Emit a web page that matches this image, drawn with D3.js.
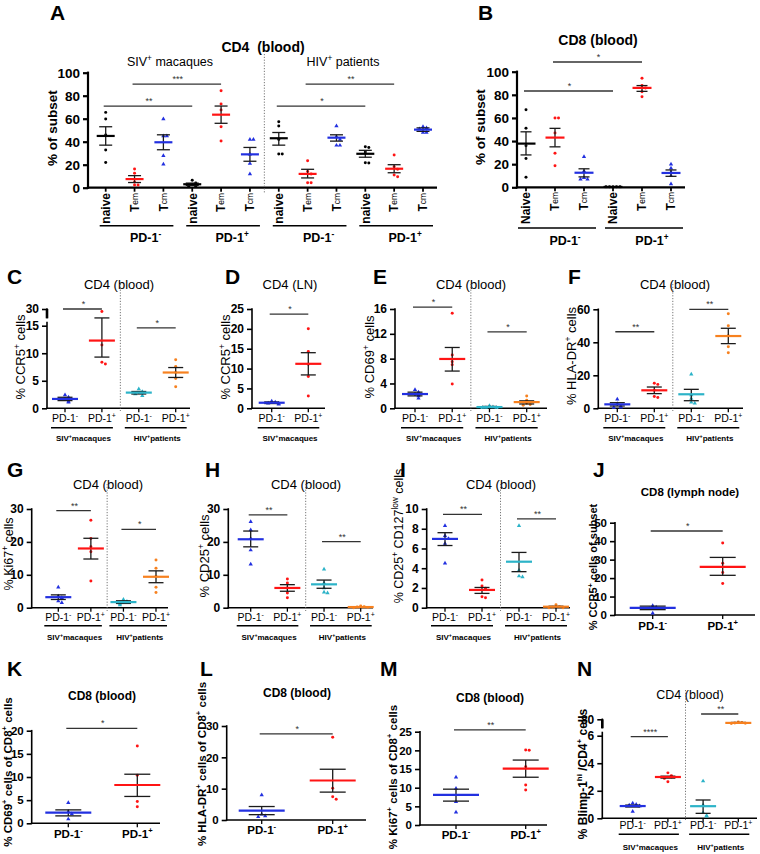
<!DOCTYPE html>
<html><head><meta charset="utf-8">
<script src="https://cdn.jsdelivr.net/npm/d3@7"></script>
<style>body{margin:0;background:#fff}svg{display:block}</style>
</head><body>
<svg id="chart" width="760" height="854"></svg>
<script>
// ================= DATA =================
// Panel A : CD4 (blood) subsets
const aXLabels = ["naive","T_em_","T_cm_","naive","T_em_","T_cm_","naive","T_em_","T_cm_","naive","T_em_","T_cm_"];
const aGroups = ["PD-1^-^","PD-1^+^","PD-1^-^","PD-1^+^"];
const aCohorts = ["SIV^+^ macaques","HIV^+^ patients"];
const aMean = [45,7.5,39.5,3,63.5,29,43,12,43.5,29.5,16.5,50.5];
const aHi   = [53,10.5,46,4,71,35,48,16,46,32.5,20,52];
const aLo   = [37,4.5,33,2,56,23,37,8.5,40.5,26.5,13,49];
const aPts  = [[65.5,59.7,45.8,32.8,22],[16.3,12.5,5,2.3,2.3],[59.7,45,45,27.8,20.3],[6.5,4,3,1,1],
               [84.3,72.8,67.5,53,40.6],[42,42,29,21,12],[57.4,53.7,42,29.3,29.3],[23.5,14,12,4.3,4.3],
               [53.7,44.3,42,36.8,36.8],[35.7,35,31,21.7,21.5],[28.4,18.3,16,11,9.6],[53,52,51,48,48]];
const aTicks = [0,20,40,60,80,100];
const aSig = [[0,3,71,"**"],[1,4,90,"***"],[6,9,71,"*"],[7,10,90,"**"]];

// Panel B : CD8 (blood) subsets
const bXLabels = ["Naive","T_em_","T_cm_","Naive","T_em_","T_cm_"];
const bGroups = ["PD-1^-^","PD-1^+^"];
const bMean = [37.8,43,12.6,0.3,86,12.4];
const bHi   = [48,51,16,0.4,88,15];
const bLo   = [28,35,9,0.2,83,9.5];
const bPts  = [[67,51,36,25,8.6],[60,60,47,29.4,18.7],[26.5,14,8.3,7,7],[0.4,0.4,0.4,0.4,0.4],[94.3,88,86,82.7,78.4],[20,16.4,13,10,2.9]];
const bTicks = [0,20,40,60,80,100];
const bSig = [[0,3,83.3,"*"],[1,4,108.4,"*"]];

// Shared x labels for the PD-1 comparisons
const pd4 = ["PD-1^-^","PD-1^+^","PD-1^-^","PD-1^+^"];
const pd2 = ["PD-1^-^","PD-1^+^"];
const cohortsBoth = ["SIV^+^macaques","HIV^+^patients"];
const cohortsSIV = ["SIV^+^macaques"];

// Panel C : % CCR5+ (CD4 blood)
const cMean = [1.7,12.3,2.85,6.5];
const cHi   = [2.0,15.8,3.05,7.4];
const cLo   = [1.4,9.3,2.6,5.6];
const cPts  = [[2.4,2.0,1.7,1.3,1.1],[26,11.5,8.35,8.05],[3.5,3.0,2.85,2.6,2.3],[8.8,7.6,6.5,5.4,3.9]];
const cTicks = [0,5,10,15,30];
const cSig = [[0,1,30,"*"],[2,3,14.6,"*"]];

// Panel D : % CCR5+ (CD4 LN)
const dMean = [1.4,11.2];
const dHi   = [1.6,14.0];
const dLo   = [1.2,8.4];
const dPts  = [[1.8,1.5,1.3,1.2,1.0],[20,14.3,11.1,8,3.1]];
const dTicks = [0,5,10,15,20,25];
const dSig = [[0,1,23.7,"*"]];

// Panel E : % CD69+ (CD4 blood)
const eMean = [2.3,7.95,0.2,1.0];
const eHi   = [2.6,9.8,0.3,1.2];
const eLo   = [2.0,6.0,0.1,0.7];
const ePts  = [[3.0,2.6,2.2,2.0,1.6],[15.3,8.6,7.5,7.0,3.9],[0.4,0.2,0.1,0.1,0.1],[2.0,1.3,0.8,0.6,0.5]];
const eTicks = [0,4,8,12,16];
const eSig = [[0,1,16.3,"*"],[2,3,12.3,"*"]];

// Panel F : % HLA-DR+ (CD4 blood)
const fMean = [2.4,10.9,8.5,43.8];
const fHi   = [3.4,12.9,11.5,48.5];
const fLo   = [1.4,8.9,4.6,39.2];
const fPts  = [[5.5,2.8,1.2,0.6,0.5],[15.2,14.5,11,7.2,6.5],[20.6,8,6,3.6,3],[57.3,50,44,37.3,33.7]];
const fTicks = [0,20,40,60];
const fSig = [[0,1,46.4,"**"],[2,3,60,"**"]];

// Panel G : % Ki67+ (CD4 blood)
const gMean = [3.2,18,1.7,9.4];
const gHi   = [3.9,21.1,2.1,11.2];
const gLo   = [2.5,14.8,1.3,7.6];
const gPts  = [[6.2,3.5,3.0,2.0,1.5],[26.6,21,18.5,17,8.1],[2.5,1.9,1.6,1.3,0.8],[14.5,12,9.5,6.2,4.6]];
const gTicks = [0,10,20,30];
const gSig = [[0,1,29.5,"**"],[2,3,23.8,"*"]];

// Panel H : % CD25+ (CD4 blood)
const hMean = [20.8,6.0,7.1,0.2];
const hHi   = [23.3,7.0,8.4,0.3];
const hLo   = [18.5,5.0,5.9,0.1];
const hPts  = [[26.1,23.6,21,17.5,13.2],[8.7,7.5,6,4.5,3],[11.7,7.5,6,4.7,4.5],[0.5,0.3,0.2,0.1,0]];
const hTicks = [0,10,20,30];
const hSig = [[0,1,28.2,"**"],[2,3,20.1,"**"]];

// Panel I : % CD25+ CD127low (CD4 blood)
const iMean = [6.97,1.8,4.66,0.1];
const iHi   = [7.6,2.05,5.6,0.15];
const iLo   = [6.3,1.45,3.65,0.05];
const iPts  = [[8.3,7.3,7.0,6.5,4.5],[2.8,2.2,1.97,1.1,1.0],[8.3,3.8,3.2,3.1],[0.3,0.1,0.05,0,0]];
const iTicks = [0,2,4,6,8,10];
const iSig = [[0,1,9.46,"**"],[2,3,9.0,"**"]];

// Panel J : % CCR5+ (CD8 lymph node)
const jMean = [3.9,26.1];
const jHi   = [4.8,31.2];
const jLo   = [2.9,21.5];
const jPts  = [[5,4.2,3.5,1],[39,28,23,17]];
const jTicks = [0,10,20,30,40,50];
const jSig = [[0,1,45.5,"*"]];

// Panel K : % CD69+ of CD8+ (blood)
const kMean = [2.3,8.27];
const kHi   = [2.9,10.6];
const kLo   = [1.6,5.8];
const kPts  = [[4.45,2.5,2.0,0.9],[16.7,10.4,4.7,3.6]];
const kTicks = [0,5,10,15,20];
const kSig = [[0,1,20.5,"*"]];

// Panel L : % HLA-DR+ of CD8+ (blood)
const lMean = [3.0,12.6];
const lHi   = [4.3,16.2];
const lLo   = [1.7,8.9];
const lPts  = [[8,1.8,1.3,1.0],[26.4,10.1,7.4,6.6]];
const lTicks = [0,10,20,30];
const lSig = [[0,1,27.5,"*"]];

// Panel M : % Ki67+ of CD8+ (blood)
const mMean = [8.06,15.1];
const mHi   = [9.6,17.4];
const mLo   = [6.4,12.8];
const mPts  = [[12.8,9.8,6.2,3.4],[20.1,20,15.6,10.7,9.4]];
const mTicks = [0,5,10,15,20,25];
const mSig = [[0,1,25.5,"**"]];

// Panel N : % Blimp-1hi / CD4+ (blood)
const nMean = [0.89,3.0,0.88,72];
const nHi   = [0.96,3.06,1.33,73];
const nLo   = [0.82,2.92,0.36,71];
const nPts  = [[1.1,1.0,0.95,0.9,0.5],[3.3,3.1,3.0,2.9,2.65],[2.7,0.97,0.4,0.2,0.15],[74,73,72,71.3,70.5]];
const nTicks = [0,2,4,6,80];
const nSig = [[0,1,5.93,"****"],[2,3,91.8,"**"]];

// ================= STYLE =================
const FONT = '"Liberation Sans", Arial, Helvetica, sans-serif';
const K = "#000000", R = "#ff1414", B = "#2230e0", C = "#2cb3c8", O = "#f7811f";
const colKRB = [K,R,B,K,R,B,K,R,B,K,R,B];
const colBRCO = [B,R,C,O];
const colBR = [B,R];

const svg = d3.select("#chart").attr("font-family", FONT);

// text with ^superscript^ and _subscript_ markup (baseline-shift, no chunk breaks)
function rich(g, str, o) {
  let x = o.x;
  if (o.rotate) x = o.x + 0.36 * o.size;   // centre rotated glyphs on o.x
  const t = g.append("text")
    .attr("x", x).attr("y", o.y)
    .attr("font-size", o.size)
    .attr("font-weight", o.weight || "normal")
    .attr("text-anchor", o.anchor || "middle")
    .attr("fill", o.fill || "#000")
    .style("white-space", "pre");
  if (o.rotate) t.attr("transform", `rotate(${o.rotate},${x},${o.y})`);
  const parts = str.split(/(\^[^\^]*\^|_[^_]*_)/).filter(s => s.length);
  parts.forEach(p => {
    let txt = p, bs = 0, fs = o.size, w = null;
    if (p.length > 1 && p[0] === "^" && p[p.length-1] === "^") {
      txt = p.slice(1,-1); bs = 0.4*o.size; fs = o.size*0.66;
    } else if (p.length > 1 && p[0] === "_" && p[p.length-1] === "_") {
      txt = p.slice(1,-1); bs = 0.08*o.size; fs = o.size*0.7; w = "normal";
    }
    const ts = t.append("tspan").text(txt).attr("font-size", fs);
    if (bs) ts.attr("baseline-shift", bs);
    if (w) ts.attr("font-weight", w);
  });
  return t;
}

function drawPanel(p) {
  const g = svg.append("g");
  const n = p.means.length;
  const x = d3.scalePoint().domain(d3.range(n)).range(p.cols);
  const y = d3.scaleLinear().domain(p.yDom).range(p.yRng);
  const y0 = p.yRng[0];

  // letter & title
  g.append("text").attr("x", p.letter[1]).attr("y", p.letter[2])
    .attr("font-size", 21).attr("font-weight", "bold").text(p.letter[0]);
  rich(g, p.title, {x: p.titleXY[0], y: p.titleXY[1], size: p.titleSize, weight: p.titleWeight});
  (p.topCohorts || []).forEach(c => rich(g, c[0], {x: c[1], y: c[2], size: 12.5}));

  // y axis
  const ax = d3.axisLeft(y).tickValues(p.ticks).tickSize(p.tickLen).tickPadding(3).tickFormat(d3.format("d"));
  const ag = g.append("g").attr("transform", `translate(${p.x0},0)`).call(ax)
    .attr("font-family", FONT).attr("font-size", p.tickFont).attr("font-weight", "bold");
  ag.select(".domain").remove();
  ag.selectAll(".tick line").attr("stroke", "#000").attr("stroke-width", p.axisW);
  ag.selectAll(".tick text").attr("fill", "#000");
  const segs = p.segs || [[p.yDom[0], p.yDom[p.yDom.length-1]]];
  segs.forEach((s, i) => {
    const ya = y(s[0]) + (i === 0 ? p.axisW/2 : 0);
    const yb = y(s[1]) - ((segs.length > 1 && i === 0) ? 4 : 0) - (i === segs.length-1 ? p.axisW/2 : 0);
    g.append("line").attr("x1", p.x0).attr("x2", p.x0).attr("y1", ya).attr("y2", yb)
      .attr("stroke", "#000").attr("stroke-width", p.axisW);
  });
  if (segs.length > 1) {
    const yb = y(segs[1][0]);
    g.append("line").attr("x1", p.x0).attr("x2", p.x0).attr("y1", yb).attr("y2", y(segs[1][1]))
      .attr("stroke", "#000").attr("stroke-width", p.axisW + 1);
  }

  // x axis
  g.append("line").attr("x1", p.x0 - p.axisW/2).attr("x2", p.x1).attr("y1", y0).attr("y2", y0)
    .attr("stroke", "#000").attr("stroke-width", p.axisW);
  d3.range(n).forEach(i => {
    g.append("line").attr("x1", x(i)).attr("x2", x(i)).attr("y1", y0).attr("y2", y0 + 4)
      .attr("stroke", "#000").attr("stroke-width", p.axisW * 0.8);
  });

  // y label
  rich(g, p.yLabel, {x: p.yLabXY[0], y: p.yLabXY[1], size: p.yLabSize, weight: p.yLabWeight, rotate: -90});

  // divider
  if (p.divAfter != null) {
    const dx = (x(p.divAfter) + x(p.divAfter + 1)) / 2;
    g.append("line").attr("x1", dx).attr("x2", dx).attr("y1", p.divY[0]).attr("y2", p.divY[1])
      .attr("stroke", "#777").attr("stroke-width", 1).attr("stroke-dasharray", "1.2,1.6");
  }

  // x labels
  p.xLabels.forEach((lab, i) => {
    if (p.xRot) {
      rich(g, lab, {x: x(i), y: p.xLabY, size: p.xLabSize, weight: "bold", anchor: "end", rotate: -90});
    } else {
      rich(g, lab, {x: x(i), y: p.xLabY, size: p.xLabSize, weight: p.xLabWeight});
    }
  });

  // group lines + labels
  (p.groups || []).forEach((gr, k) => {
    const xa = x(gr[0]) + p.gLine[0], xb = x(gr[1]) + p.gLine[1];
    g.append("line").attr("x1", xa).attr("x2", xb).attr("y1", p.groupY).attr("y2", p.groupY)
      .attr("stroke", "#000").attr("stroke-width", 1.5);
    const cx = (x(gr[0]) + x(gr[1])) / 2 + p.gLabDx;
    rich(g, p.groupLabels[k], {x: cx, y: p.groupLabY, size: p.groupLabSize, weight: "bold"});
  });

  // significance bars
  p.sig.forEach(s => {
    const yy = y(s[2]);
    g.append("line").attr("x1", x(s[0]) - 2).attr("x2", x(s[1])).attr("y1", yy).attr("y2", yy)
      .attr("stroke", "#333").attr("stroke-width", 1.3);
    g.append("text").attr("x", (x(s[0]) + x(s[1])) / 2).attr("y", yy - 2)
      .attr("text-anchor", "middle").attr("font-size", 9).attr("fill", "#333").text(s[3]);
  });

  // points, error bars, means
  p.means.forEach((m, i) => {
    const cx = x(i), col = p.colors[i];
    const placed = [];
    p.pts[i].forEach(v => {
      const py = y(v);
      const k = placed.filter(q => Math.abs(q - py) < 3).length;
      placed.push(py);
      const off = k === 0 ? 0 : (k % 2 === 1 ? 1 : -1) * Math.ceil(k / 2) * 3.5;
      const tri = (col === B || col === C);
      g.append("path")
        .attr("d", d3.symbol().type(tri ? d3.symbolTriangle : d3.symbolCircle).size(tri ? 8 : 7)())
        .attr("transform", `translate(${cx + off},${py})`)
        .attr("fill", col);
    });
    const yh = y(p.hi[i]), yl = y(p.lo[i]);
    g.append("line").attr("x1", cx).attr("x2", cx).attr("y1", yh).attr("y2", yl)
      .attr("stroke", "#1a1a1a").attr("stroke-width", 1.3);
    [yh, yl].forEach(yy => g.append("line").attr("x1", cx - p.capHalf).attr("x2", cx + p.capHalf)
      .attr("y1", yy).attr("y2", yy).attr("stroke", "#1a1a1a").attr("stroke-width", 1.3));
    g.append("line").attr("x1", cx - p.meanHalf).attr("x2", cx + p.meanHalf)
      .attr("y1", y(m)).attr("y2", y(m)).attr("stroke", col).attr("stroke-width", 2.2);
  });
}

// common settings for the small panels
const rowFlat = (o) => Object.assign({
  titleSize: 13, titleWeight: "normal", tickLen: 5, tickFont: 12, axisW: 1.6,
  yLabSize: 13, yLabWeight: "normal", xRot: false, xLabSize: 10.5, xLabWeight: "normal",
  gLine: [-14, 11], gLabDx: 0, groupLabSize: 8, meanHalf: 13, capHalf: 7.5
}, o);
const rowBold2 = (o) => Object.assign({
  titleSize: 12, titleWeight: "bold", tickLen: 5, tickFont: 11.5, axisW: 1.6,
  yLabSize: 12, yLabWeight: "bold", xRot: false, xLabSize: 11.5, xLabWeight: "bold",
  meanHalf: 23, capHalf: 13
}, o);

const panels = [
  { letter: ["A", 50, 20], title: "CD4  (blood)", titleXY: [263, 52], titleSize: 14, titleWeight: "bold",
    topCohorts: [[aCohorts[0], 170, 66], [aCohorts[1], 343, 66]],
    x0: 88, x1: 437, cols: [105.7, 423], yDom: [0, 100], yRng: [187.7, 72.7], ticks: aTicks,
    tickLen: 5, tickFont: 13.5, axisW: 2.2,
    yLabel: "% of subset", yLabXY: [52, 128], yLabSize: 13.5, yLabWeight: "bold",
    xLabels: aXLabels, xRot: true, xLabY: 193, xLabSize: 12,
    groups: [[0,2],[3,5],[6,8],[9,11]], groupLabels: aGroups, gLine: [-6, 10], groupY: 225.7,
    gLabDx: 11, groupLabY: 242, groupLabSize: 12.5,
    divAfter: 5, divY: [54, 193], sig: aSig,
    means: aMean, hi: aHi, lo: aLo, pts: aPts, colors: colKRB, meanHalf: 9, capHalf: 6.5 },
  { letter: ["B", 478, 20], title: "CD8 (blood)", titleXY: [598, 45], titleSize: 14, titleWeight: "bold",
    x0: 517, x1: 685, cols: [526, 671], yDom: [0, 100], yRng: [187.3, 71.7], ticks: bTicks,
    tickLen: 5, tickFont: 13.5, axisW: 2.2,
    yLabel: "% of subset", yLabXY: [480, 127], yLabSize: 13.5, yLabWeight: "bold",
    xLabels: bXLabels, xRot: true, xLabY: 192, xLabSize: 12,
    groups: [[0,2],[3,5]], groupLabels: bGroups, gLine: [-8, 12], groupY: 228,
    gLabDx: 10, groupLabY: 245, groupLabSize: 12.5,
    sig: bSig, means: bMean, hi: bHi, lo: bLo, pts: bPts, colors: colKRB, meanHalf: 9.5, capHalf: 5.5 },
  rowFlat({ letter: ["C", 7, 284], title: "CD4 (blood)", titleXY: [119, 289],
    x0: 47, x1: 190, cols: [65, 175.7], yDom: [0, 15, 15.2, 30], yRng: [408.3, 325.7, 318.3, 309],
    segs: [[0, 15], [15.2, 30]], ticks: cTicks,
    yLabel: "% CCR5^+^ cells", yLabXY: [20, 357],
    xLabels: pd4, xLabY: 422, groups: [[0,1],[2,3]], groupLabels: cohortsBoth, groupY: 427.7, groupLabY: 441,
    divAfter: 1, divY: [284, 411], sig: cSig,
    means: cMean, hi: cHi, lo: cLo, pts: cPts, colors: colBRCO }),
  rowFlat({ letter: ["D", 225, 284], title: "CD4 (LN)", titleXY: [290, 289],
    x0: 252, x1: 325, cols: [271.7, 308.3], yDom: [0, 25], yRng: [408.3, 309], ticks: dTicks,
    yLabel: "% CCR5^+^ cells", yLabXY: [225.7, 357],
    xLabels: pd2, xLabY: 422, groups: [[0,1]], groupLabels: cohortsSIV, groupY: 427.7, groupLabY: 441,
    sig: dSig, means: dMean, hi: dHi, lo: dLo, pts: dPts, colors: colBR }),
  rowFlat({ letter: ["E", 373, 284], title: "CD4 (blood)", titleXY: [471, 289],
    x0: 395, x1: 547, cols: [415, 526.7], yDom: [0, 16], yRng: [408.3, 309], ticks: eTicks,
    yLabel: "% CD69^+^ cells", yLabXY: [369, 357],
    xLabels: pd4, xLabY: 422, groups: [[0,1],[2,3]], groupLabels: cohortsBoth, groupY: 427.7, groupLabY: 441,
    divAfter: 1, divY: [284, 411], sig: eSig,
    means: eMean, hi: eHi, lo: eLo, pts: ePts, colors: colBRCO }),
  rowFlat({ letter: ["F", 568, 284], title: "CD4 (blood)", titleXY: [675, 289],
    x0: 598.3, x1: 743, cols: [617.3, 728.3], yDom: [0, 60], yRng: [408.3, 309.3], ticks: fTicks,
    yLabel: "% HLA-DR^+^ cells", yLabXY: [571, 356],
    xLabels: pd4, xLabY: 422, groups: [[0,1],[2,3]], groupLabels: cohortsBoth, groupY: 427.7, groupLabY: 441,
    divAfter: 1, divY: [284, 411], sig: fSig,
    means: fMean, hi: fHi, lo: fLo, pts: fPts, colors: colBRCO }),
  rowFlat({ letter: ["G", 7, 477], title: "CD4 (blood)", titleXY: [108, 489],
    x0: 31.7, x1: 168, cols: [58.3, 156], yDom: [0, 30], yRng: [607.7, 509], ticks: gTicks,
    yLabel: "% Ki67^+^ cells", yLabXY: [8, 554], yLabSize: 12.5,
    xLabels: pd4, xLabY: 621, groups: [[0,1],[2,3]], groupLabels: cohortsBoth, groupY: 625.7, groupLabY: 640,
    divAfter: 1, divY: [484, 611], sig: gSig,
    means: gMean, hi: gHi, lo: gLo, pts: gPts, colors: colBRCO }),
  rowFlat({ letter: ["H", 205, 477], title: "CD4 (blood)", titleXY: [306, 489],
    x0: 228.3, x1: 373, cols: [250.7, 360.7], yDom: [0, 30], yRng: [607.7, 509], ticks: hTicks,
    yLabel: "% CD25^+^ cells", yLabXY: [204, 556],
    xLabels: pd4, xLabY: 621, groups: [[0,1],[2,3]], groupLabels: cohortsBoth, groupY: 625.7, groupLabY: 640,
    divAfter: 1, divY: [484, 611], sig: hSig,
    means: hMean, hi: hHi, lo: hLo, pts: hPts, colors: colBRCO }),
  rowFlat({ letter: ["I", 400, 477], title: "CD4 (blood)", titleXY: [501, 489],
    x0: 426.7, x1: 570, cols: [445, 556], yDom: [0, 10], yRng: [607.7, 509], ticks: iTicks,
    yLabel: "% CD25^+^ CD127^low^ cells", yLabXY: [398.3, 536], yLabSize: 12.5,
    xLabels: pd4, xLabY: 621, groups: [[0,1],[2,3]], groupLabels: cohortsBoth, groupY: 625.7, groupLabY: 640,
    divAfter: 1, divY: [484, 611], sig: iSig,
    means: iMean, hi: iHi, lo: iLo, pts: iPts, colors: colBRCO }),
  rowBold2({ letter: ["J", 593, 477], title: "CD8 (lymph node)", titleXY: [690, 496], titleSize: 11.5,
    x0: 615, x1: 755, cols: [652.7, 722.7], yDom: [0, 50], yRng: [615, 522.7], ticks: jTicks, tickFont: 11.5,
    yLabel: "% CCR5^+^ cells of subset", yLabXY: [592.7, 567], yLabSize: 11,
    xLabels: pd2, xLabY: 630, sig: jSig,
    means: jMean, hi: jHi, lo: jLo, pts: jPts, colors: colBR }),
  rowBold2({ letter: ["K", 7, 676], title: "CD8 (blood)", titleXY: [102, 700],
    x0: 31.7, x1: 160, cols: [68.3, 137.3], yDom: [0, 20], yRng: [823.3, 730.7], ticks: kTicks,
    yLabel: "% CD69^+^ cells of CD8^+^ cells", yLabXY: [8, 772], yLabSize: 11.5,
    xLabels: pd2, xLabY: 837.5, sig: kSig,
    means: kMean, hi: kHi, lo: kLo, pts: kPts, colors: colBR }),
  rowBold2({ letter: ["L", 200, 676], title: "CD8 (blood)", titleXY: [297, 697],
    x0: 226.7, x1: 366, cols: [261.7, 332.7], yDom: [0, 30], yRng: [820, 726], ticks: lTicks,
    yLabel: "% HLA-DR^+^ cells of CD8^+^ cells", yLabXY: [202.3, 764], yLabSize: 11.5,
    xLabels: pd2, xLabY: 834, sig: lSig,
    means: lMean, hi: lHi, lo: lLo, pts: lPts, colors: colBR }),
  rowBold2({ letter: ["M", 380, 676], title: "CD8 (blood)", titleXY: [490, 702],
    x0: 420, x1: 547, cols: [456, 525.7], yDom: [0, 25], yRng: [825, 731.7], ticks: mTicks,
    yLabel: "% Ki67^+^ cells of CD8^+^ cells", yLabXY: [393.3, 777], yLabSize: 11.5,
    xLabels: pd2, xLabY: 839, sig: mSig,
    means: mMean, hi: mHi, lo: mLo, pts: mPts, colors: colBR }),
  rowFlat({ letter: ["N", 577, 676], title: "CD4 (blood)", titleXY: [690, 699], titleSize: 12.5,
    x0: 602.3, x1: 757, cols: [632.7, 738.3], yDom: [0, 6, 60, 80], yRng: [818.3, 735.7, 728.3, 719.3],
    segs: [[0, 6], [60, 80]], ticks: nTicks,
    yLabel: "% Blimp-1^hi^ /CD4^+^ cells", yLabXY: [582.3, 774], yLabSize: 12, yLabWeight: "bold",
    xLabels: pd4, xLabY: 829, groups: [[0,1],[2,3]], groupLabels: cohortsBoth, groupY: 834.3, groupLabY: 850,
    divAfter: 1, divY: [690, 820], sig: nSig,
    means: nMean, hi: nHi, lo: nLo, pts: nPts, colors: colBRCO })
];

panels.forEach(drawPanel);
</script>
</body></html>
